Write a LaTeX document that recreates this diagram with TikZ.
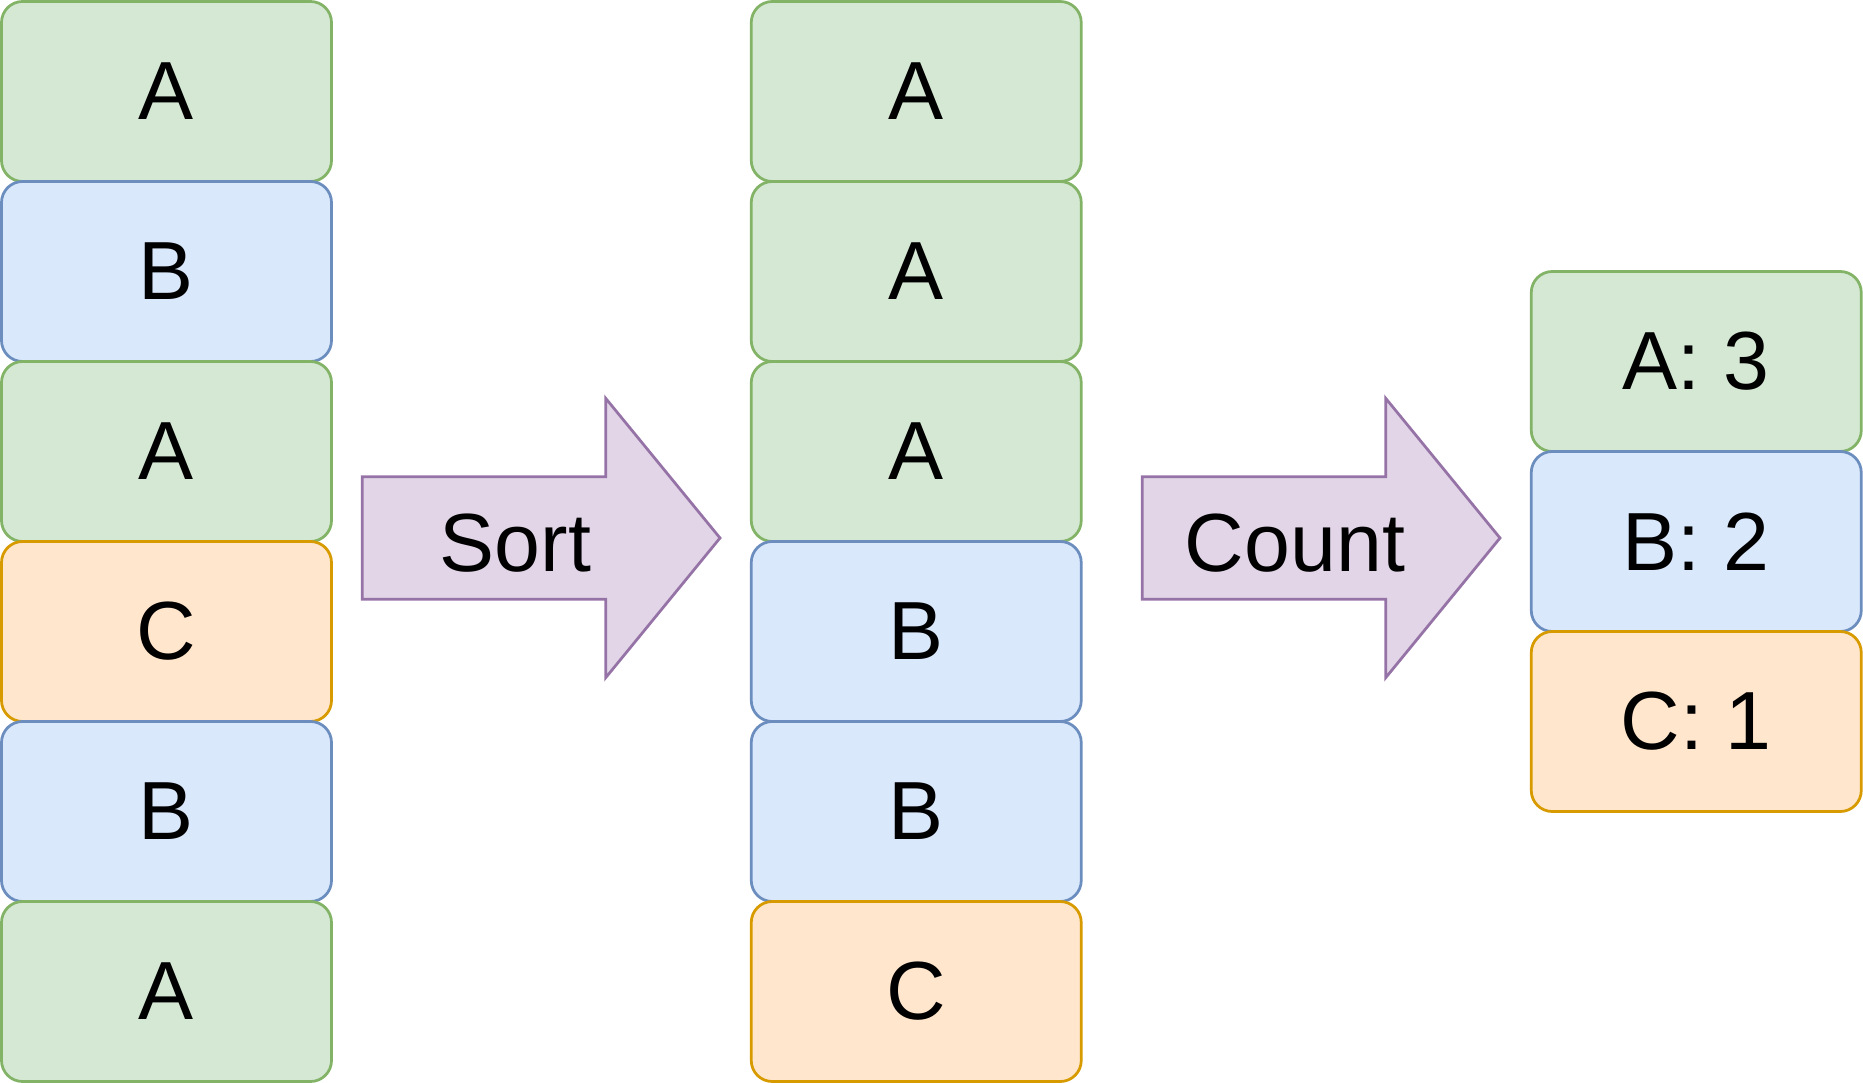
\documentclass[tikz,border=0pt]{standalone}
\usepackage{fontspec}
\setmainfont{Liberation Sans}
\definecolor{gfill}{HTML}{D5E8D4}\definecolor{gline}{HTML}{82B366}
\definecolor{bfill}{HTML}{DAE8FC}\definecolor{bline}{HTML}{6C8EBF}
\definecolor{ofill}{HTML}{FFE6CC}\definecolor{oline}{HTML}{D79B00}
\definecolor{pfill}{HTML}{E1D5E7}\definecolor{pline}{HTML}{9673A6}
\tikzset{
  cell/.style={rectangle, rounded corners=21pt, line width=2.75pt, minimum width=330pt, minimum height=180pt, inner sep=0pt, font=\fontsize{82.5}{99}\selectfont, text=black},
  gcell/.style={cell, fill=gfill, draw=gline},
  bcell/.style={cell, fill=bfill, draw=bline},
  ocell/.style={cell, fill=ofill, draw=oline},
  bigarrow/.style={fill=pfill, draw=pline, line width=2.75pt, line join=miter},
  arrowlabel/.style={inner sep=0pt, font=\fontsize{82.5}{99}\selectfont, text=black}
}
\begin{document}
\begin{tikzpicture}[x=1pt,y=-1pt]
\useasboundingbox (0,0) rectangle (1863,1083);
% left column
\node[gcell] (l1) at (166.5,91.5) {A};
\node[bcell] (l2) at (166.5,271.5) {B};
\node[gcell] (l3) at (166.5,451.5) {A};
\node[ocell] (l4) at (166.5,631.5) {C};
\node[bcell] (l5) at (166.5,811.5) {B};
\node[gcell] (l6) at (166.5,991.5) {A};
% middle column
\node[gcell] (m1) at (916.25,91.5) {A};
\node[gcell] (m2) at (916.25,271.5) {A};
\node[gcell] (m3) at (916.25,451.5) {A};
\node[bcell] (m4) at (916.25,631.5) {B};
\node[bcell] (m5) at (916.25,811.5) {B};
\node[ocell] (m6) at (916.25,991.5) {C};
% right column
\node[gcell] (r1) at (1696.25,361.5) {A: 3};
\node[bcell] (r2) at (1696.25,541.5) {B: 2};
\node[ocell] (r3) at (1696.25,721.5) {C: 1};
% arrows
\draw[bigarrow] (362.3,476.7) -- (605.7,476.7) -- (605.7,398.3) -- (720,538) -- (605.7,677.7) -- (605.7,599.3) -- (362.3,599.3) -- cycle;
\node[arrowlabel] (sort) at (515.5,543) {Sort};
\draw[bigarrow] (1142.3,476.7) -- (1385.7,476.7) -- (1385.7,398.3) -- (1500,538) -- (1385.7,677.7) -- (1385.7,599.3) -- (1142.3,599.3) -- cycle;
\node[arrowlabel] (count) at (1295,543) {Count};
\end{tikzpicture}
\end{document}
